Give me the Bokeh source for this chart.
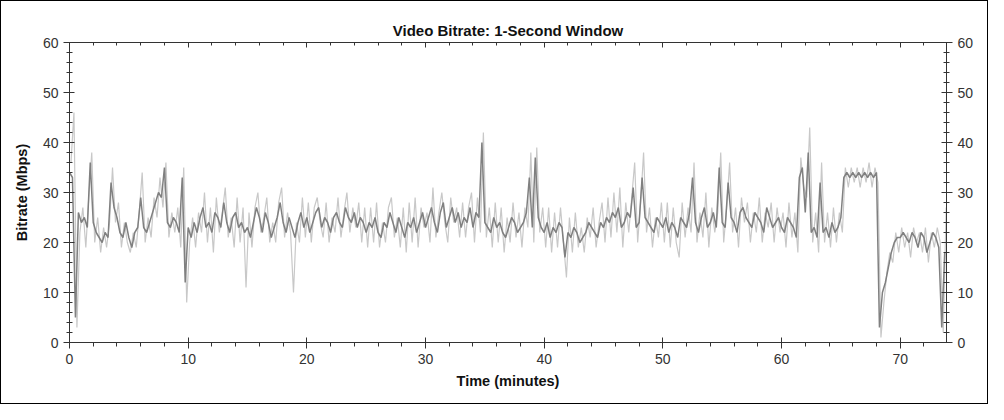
import numpy as np
from bokeh.plotting import figure
from bokeh.models import LinearAxis, Range1d, FixedTicker, Title
from bokeh.embed import file_html
from bokeh.resources import INLINE

# Dark series: 1-second bitrate trace sampled every 0.25 min (Mbps)
dark_values = [
    34, 33, 5, 26, 24, 25, 23, 36, 24, 22, 21, 20, 22, 21, 32, 27, 25, 22, 21, 24,
    21, 19, 22, 23, 29, 23, 22, 24, 26, 28, 30, 29, 35, 24, 23, 25, 24, 22, 33, 12,
    23, 21, 24, 22, 25, 27, 23, 24, 22, 26, 25, 23, 28, 24, 22, 25, 26, 23, 24, 22,
    23, 21, 24, 27, 25, 22, 26, 24, 21, 23, 25, 28, 24, 22, 25, 23, 21, 24, 26, 23,
    25, 22, 24, 26, 27, 23, 25, 24, 22, 25, 26, 24, 23, 27, 25, 24, 26, 23, 25, 24,
    22, 24, 23, 25, 22, 21, 24, 23, 26, 24, 22, 25, 23, 21, 24, 23, 25, 22, 24, 26,
    23, 25, 27, 24, 22, 26, 28, 23, 25, 27, 24, 26, 23, 25, 24, 27, 23, 26, 25, 40,
    24, 23, 22, 25, 23, 24, 22, 21, 23, 25, 24, 22, 23, 24, 26, 33, 23, 37, 25, 23,
    22, 24, 21, 23, 22, 24, 23, 17, 22, 21, 23, 22, 20, 21, 22, 24, 23, 22, 21, 24,
    23, 25, 24, 26, 25, 27, 23, 24, 26, 25, 31, 23, 24, 33, 25, 24, 23, 22, 25, 24,
    23, 25, 22, 24, 23, 21, 25, 24, 23, 26, 33, 24, 22, 25, 27, 23, 24, 26, 23, 35,
    24, 23, 32, 25, 24, 22, 26, 27, 25, 24, 23, 26, 25, 24, 22, 27, 25, 23, 24, 25,
    23, 22, 25, 24, 23, 21, 33, 35, 26, 38, 22, 23, 21, 32, 22, 23, 21, 24, 22, 23,
    25, 33, 34, 33, 34, 33, 34, 33, 34, 33, 34, 33, 34, 3, 10, 12, 15, 18, 20, 21,
    21, 22, 21, 20, 22, 21, 19, 22, 21, 18, 20, 22, 21, 19, 3, 18,
]
dark_times = [i * 0.25 for i in range(len(dark_values))]

# Light series: raw peaks/troughs between the dark samples (Mbps)
light_values = [
    36, 46, 3, 22, 27, 19, 29, 38, 20, 25, 18, 23, 19, 24, 35, 24, 28, 19, 24, 20,
    18, 22, 19, 26, 34, 20, 25, 21, 29, 25, 33, 27, 36, 21, 26, 22, 27, 19, 35, 8,
    20, 25, 19, 26, 22, 30, 20, 27, 18, 29, 22, 26, 31, 21, 25, 19, 29, 20, 27, 11,
    26, 19, 27, 30, 22, 25, 29, 20, 24, 20, 28, 31, 21, 26, 22, 10, 24, 20, 29, 21,
    28, 20, 27, 29, 24, 21, 28, 20, 25, 22, 29, 21, 26, 30, 22, 27, 23, 28, 20, 27,
    19, 27, 20, 28, 19, 24, 20, 27, 29, 21, 25, 19, 27, 18, 28, 20, 29, 19, 27, 23,
    26, 20, 31, 21, 26, 30, 24, 20, 29, 24, 27, 21, 28, 21, 27, 30, 20, 29, 22, 42,
    21, 27, 19, 28, 20, 27, 18, 25, 20, 28, 21, 26, 19, 27, 23, 38, 20, 39, 22, 27,
    19, 27, 18, 26, 19, 27, 20, 13, 25, 18, 26, 19, 23, 18, 25, 21, 27, 19, 24, 28,
    20, 29, 21, 30, 22, 31, 19, 28, 22, 29, 36, 20, 28, 38, 22, 27, 19, 25, 21, 28,
    20, 28, 19, 27, 20, 17, 28, 21, 27, 22, 36, 20, 26, 21, 30, 19, 27, 22, 26, 38,
    20, 27, 36, 22, 27, 19, 29, 24, 28, 20, 26, 22, 29, 20, 26, 23, 28, 20, 27, 22,
    26, 19, 28, 21, 26, 18, 37, 31, 29, 43, 20, 26, 18, 36, 20, 26, 19, 27, 20, 26,
    22, 35, 31, 35, 32, 35, 31, 35, 32, 36, 31, 35, 32, 1, 8, 14, 18, 16, 22, 18,
    23, 19, 22, 17, 23, 20, 22, 18, 23, 16, 22, 19, 23, 20, 2, 27,
]
light_times = [0.125 + i * 0.25 for i in range(len(light_values))]

x_ticks = [0, 10, 20, 30, 40, 50, 60, 70]
y_ticks = [0, 10, 20, 30, 40, 50, 60]
x_minor = [float(v) for v in range(0, 75, 2)]
y_minor = [float(v) for v in range(0, 61, 2)]

FONT = "Liberation Sans"
AXIS_COLOR = "#333333"

p = figure(
    width=988, height=404,
    output_backend="svg", toolbar_location=None,
    x_range=Range1d(0, 73.9), y_range=Range1d(0, 60),
    min_border_left=68, min_border_right=43, min_border_top=41, min_border_bottom=63,
)
p.background_fill_color = "white"
p.border_fill_color = "white"
p.outline_line_color = None
p.xgrid.visible = False
p.ygrid.visible = False

p.line(light_times, light_values, line_color="#c8c8c8", line_width=1.2)
p.line(dark_times, dark_values, line_color="#808080", line_width=1.5)

p.title = Title(text="Video Bitrate: 1-Second Window", align="center",
                text_font=FONT, text_font_size="15px", text_font_style="bold",
                text_color="#111111", standoff=8)


def style_axis(ax, ticks, minor, labels=True):
    ax.ticker = FixedTicker(ticks=ticks, minor_ticks=minor)
    ax.axis_line_color = AXIS_COLOR
    ax.major_tick_line_color = AXIS_COLOR
    ax.minor_tick_line_color = AXIS_COLOR
    ax.major_tick_out = 6
    ax.major_tick_in = 5
    ax.minor_tick_out = 3
    ax.minor_tick_in = 3
    ax.major_label_text_font = FONT
    ax.major_label_text_font_size = "14px"
    ax.major_label_text_color = "#333333"
    ax.axis_label_text_font = FONT
    ax.axis_label_text_font_size = "14.5px"
    ax.axis_label_text_font_style = "bold"
    ax.axis_label_text_color = "#111111"
    if not labels:
        ax.major_label_text_font_size = "0px"
        ax.major_label_text_alpha = 0


style_axis(p.xaxis[0], x_ticks, x_minor)
p.xaxis[0].axis_label = "Time (minutes)"
p.xaxis[0].axis_label_standoff = 6
p.xaxis[0].minor_tick_in = 0
p.xaxis[0].minor_tick_out = 4

style_axis(p.yaxis[0], y_ticks, y_minor)
p.yaxis[0].axis_label = "Bitrate (Mbps)"
p.yaxis[0].axis_label_standoff = 10

right = LinearAxis()
style_axis(right, y_ticks, y_minor)
p.add_layout(right, "right")

top = LinearAxis()
style_axis(top, x_ticks, x_minor, labels=False)
top.major_tick_out = 0
top.minor_tick_out = 0
top.minor_tick_in = 3
top.major_tick_in = 5
top.major_label_standoff = 0
p.add_layout(top, "above")

p.styles = {"border": "1px solid #000000", "box-sizing": "border-box"}

open("out.html", "w").write(file_html(p, INLINE))
